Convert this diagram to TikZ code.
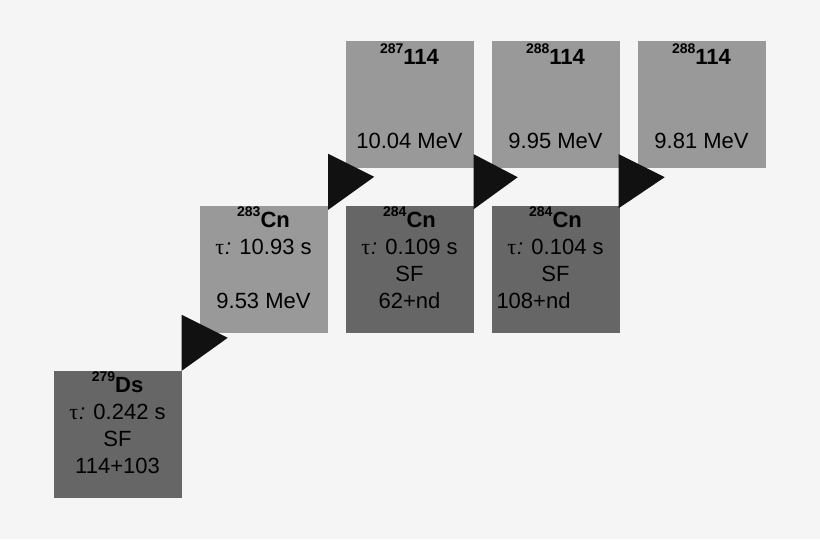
\documentclass[tikz,border=0pt]{standalone}
\usepackage{fontspec}
\setmainfont{Liberation Sans}
\newfontfamily\taufont{Liberation Serif}
\usetikzlibrary{positioning}

\definecolor{bgcol}{HTML}{F5F5F5}
\definecolor{darkbox}{HTML}{666666}
\definecolor{lightbox}{HTML}{999999}
\definecolor{arrowcol}{HTML}{111111}

\newcommand{\nuc}[2]{\raisebox{11pt}{\fontsize{14}{14}\selectfont\bfseries #1}{\fontsize{22}{27}\selectfont\bfseries #2}}
\newcommand{\life}{{\taufont τ}\kern1pt\textsl{:}}

\tikzset{
  isobox/.style={rectangle, minimum width=128pt, minimum height=127pt, inner sep=0pt,
    align=center, text height=102pt, text depth=25pt, font=\fontsize{22}{26.7}\selectfont},
  sfbox/.style={isobox, fill=darkbox},
  alphabox/.style={isobox, fill=lightbox},
  topbox/.style={alphabox, text height=107pt, text depth=20pt, font=\fontsize{22}{28}\selectfont},
  decay/.style={fill=arrowcol}
}

\begin{document}
\begin{tikzpicture}[x=1pt,y=1pt,node distance=165pt and 146pt,on grid]
  \fill[bgcol] (0,0) rectangle (820,-539);
  \useasboundingbox (0,0) rectangle (820,-539);

  \node[sfbox] (ds279) at (117.5,-434.5) {\nuc{279}{Ds}\\ \life{} 0.242 s\\ SF\\ 114+103};
  \node[alphabox] (cn283) [above right=of ds279] {\nuc{283}{Cn}\\ \life{} 10.93 s\\ \\ 9.53 MeV};
  \node[topbox] (fl287) [above right=of cn283] {\nuc{287}{114}\\ \\ \\ 10.04 MeV};
  \node[sfbox] (cn284a) [below=of fl287] {\nuc{284}{Cn}\\ \life{} 0.109 s\\ SF\\ 62+nd};
  \node[topbox] (fl288a) [right=of fl287] {\nuc{288}{114}\\ \\ \\ 9.95 MeV};
  \node[sfbox] (cn284b) [below=of fl288a] {\nuc{284}{Cn}\\ \life{} 0.104 s\\ SF\\ \makebox[118pt][l]{108+nd}};
  \node[topbox] (fl288b) [right=of fl288a] {\nuc{288}{114}\\ \\ \\ 9.81 MeV};

  % decay arrows
  \fill[decay] (ds279.north east) ++(0,56) -- ++(46,-23) -- (ds279.north east) -- cycle;
  \fill[decay] (cn283.north east) ++(0.5,52) -- ++(46,-23) -- ++(-46,-33) -- cycle;
  \fill[decay] (fl287.south east) ++(0,14) -- ++(44,-23) -- ++(-44,-32) -- cycle;
  \fill[decay] (fl288a.south east) ++(-1,14) -- ++(46,-23) -- ++(-46,-31) -- cycle;
\end{tikzpicture}
\end{document}
